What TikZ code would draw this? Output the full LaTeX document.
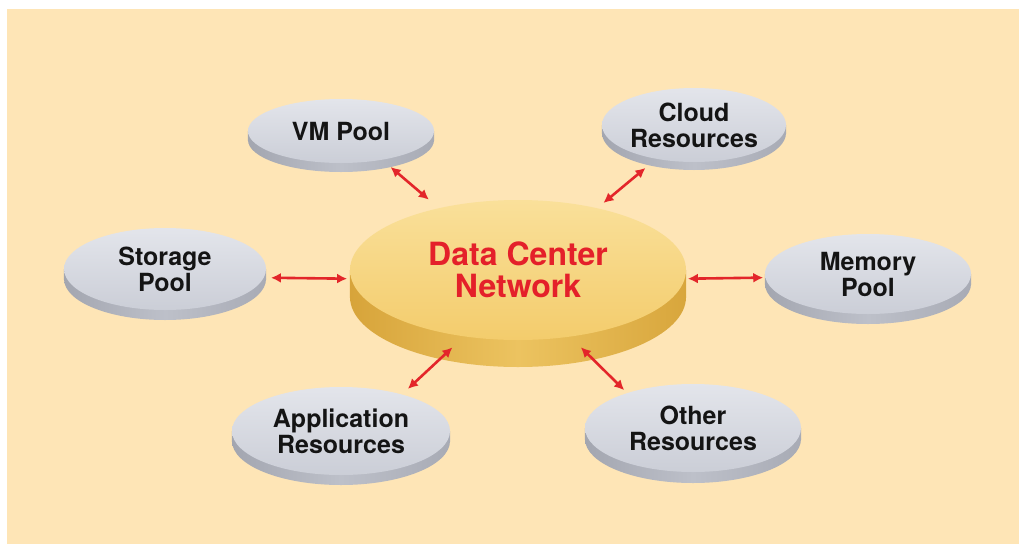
\documentclass[tikz,border=0pt]{standalone}
\usepackage{fontspec}
\setmainfont{TeX Gyre Heros}
\usetikzlibrary{shapes.geometric,arrows.meta}

\definecolor{paper}{HTML}{FEE5B6}
\definecolor{pooltop}{HTML}{E3E5EB}
\definecolor{poolbot}{HTML}{CBCED7}
\definecolor{poolsideL}{HTML}{A3A6B0}
\definecolor{poolsideM}{HTML}{BDC0C9}
\definecolor{poolsideR}{HTML}{A8ABB5}
\definecolor{hubtop}{HTML}{FAE09A}
\definecolor{hubbot}{HTML}{F3CC6C}
\definecolor{hubsideL}{HTML}{D7A43A}
\definecolor{hubsideM}{HTML}{ECC360}
\definecolor{hubsideR}{HTML}{D8A63C}
\definecolor{linkred}{HTML}{E3262A}
\definecolor{hubred}{HTML}{E4202A}
\definecolor{ink}{HTML}{141414}

\begin{document}
\begin{tikzpicture}[x=1pt,y=-1pt,
    poolside/.style={left color=poolsideL, right color=poolsideR, middle color=poolsideM},
    poolbase/.style={poolside, ellipse, inner sep=0pt},
    pool/.style={ellipse, inner sep=0pt, top color=pooltop, bottom color=poolbot,
      text=ink, align=center, font=\fontsize{25}{26}\selectfont\bfseries},
    hubside/.style={left color=hubsideL, right color=hubsideR, middle color=hubsideM},
    hubbase/.style={hubside, ellipse, inner sep=0pt},
    hub/.style={ellipse, inner sep=0pt, top color=hubtop, bottom color=hubbot,
      text=hubred, align=center, font=\fontsize{32}{32}\selectfont\bfseries},
    link/.style={draw=linkred, line width=2.6pt,
      {Latex[length=10pt,width=10pt]}-{Latex[length=10pt,width=10pt]}}]
  \useasboundingbox (0,0) rectangle (1019,544);
  \fill[paper] (7,9) rectangle (1019,544);

  % centre disc
  \node[hubbase, minimum width=336pt, minimum height=140pt] (dcnb) at (518,297) {};
  \path[hubside] (dcnb.west) rectangle ([yshift=27pt]dcnb.east);
  \node[hub, minimum width=336pt, minimum height=140pt] (dcn) at (518,270) {Data Center\\Network};

  % VM pool
  \node[poolbase, minimum width=186pt, minimum height=64pt] (vmb) at (341,140) {};
  \path[poolside] (vmb.west) rectangle ([yshift=9pt]vmb.east);
  \node[pool, minimum width=186pt, minimum height=64pt] (vm) at (341,131) {VM Pool};

  % cloud resources
  \node[poolbase, minimum width=184pt, minimum height=74pt] (crb) at (694,133) {};
  \path[poolside] (crb.west) rectangle ([yshift=8pt]crb.east);
  \node[pool, minimum width=184pt, minimum height=74pt] (cr) at (694,125) {Cloud\\Resources};

  % storage pool
  \node[poolbase, minimum width=202pt, minimum height=82pt] (spb) at (165,279) {};
  \path[poolside] (spb.west) rectangle ([yshift=10pt]spb.east);
  \node[pool, minimum width=202pt, minimum height=82pt] (sp) at (165,269) {Storage\\Pool};

  % memory pool
  \node[poolbase, minimum width=206pt, minimum height=80pt] (mpb) at (868,284) {};
  \path[poolside] (mpb.west) rectangle ([yshift=10pt]mpb.east);
  \node[pool, minimum width=206pt, minimum height=80pt] (mp) at (868,274) {Memory\\Pool};

  % application resources
  \node[poolbase, minimum width=218pt, minimum height=88pt] (arb) at (341,441) {};
  \path[poolside] (arb.west) rectangle ([yshift=10pt]arb.east);
  \node[pool, minimum width=218pt, minimum height=88pt] (ar) at (341,431) {Application\\Resources};

  % other resources
  \node[poolbase, minimum width=216pt, minimum height=88pt] (orb) at (693,439) {};
  \path[poolside] (orb.west) rectangle ([yshift=11pt]orb.east);
  \node[pool, minimum width=216pt, minimum height=88pt] (or) at (693,428) {Other\\Resources};

  % links to the centre
  \draw[link, shorten <=11pt, shorten >=13pt] (vm.-35) -- (dcn.142);
  \draw[link, shorten <=14pt, shorten >=8pt] (cr.-138) -- (dcn.38);
  \draw[link, shorten <=7pt, shorten >=4pt] (sp.-5) -- (dcn.-177.5);
  \draw[link, shorten <=2pt, shorten >=3pt] (mp.-178) -- (dcn.-3);
  \draw[link, shorten <=8pt, shorten >=16pt] (ar.31) -- (dcn.-129);
  \draw[link, shorten <=4pt, shorten >=15pt] (or.152) -- (dcn.-52);
\end{tikzpicture}
\end{document}
